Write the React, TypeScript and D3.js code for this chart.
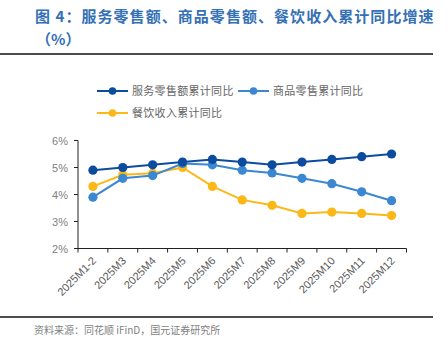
import React from "react";
import * as d3 from "d3";

const categories = ["2025M1-2", "2025M3", "2025M4", "2025M5", "2025M6", "2025M7", "2025M8", "2025M9", "2025M10", "2025M11", "2025M12"];
const services = [4.9, 5.0, 5.1, 5.2, 5.3, 5.2, 5.1, 5.2, 5.3, 5.4, 5.5];
const goods = [3.9, 4.6, 4.7, 5.15, 5.1, 4.9, 4.8, 4.6, 4.4, 4.1, 3.77];
const catering = [4.3, 4.73, 4.79, 5.0, 4.3, 3.8, 3.6, 3.3, 3.35, 3.3, 3.22];
const yTicks = [2, 3, 4, 5, 6];
const seriesNames = ["服务零售额累计同比", "商品零售累计同比", "餐饮收入累计同比"];
const colors = ["#0c4c9f", "#3b87d2", "#fbb817"];

export default function App() {
  const W = 448, H = 342;
  const left = 78, right = 406.5, top = 140.5, bottom = 248.5;
  const x = d3.scaleBand<string>().domain(categories).range([left, right]);
  const y = d3.scaleLinear().domain([2, 6]).range([bottom, top]);
  const line = d3.line<number>().x((_, i) => x(categories[i])! + x.bandwidth() / 2).y(d => y(d));
  const series = [services, goods, catering];
  const font = "'Noto Sans CJK SC', 'Noto Sans', sans-serif";
  const boundaries = categories.map(c => x(c)!).concat([right]);
  const order = [2, 1, 0];
  return (
    <svg width={W} height={H} style={{ position: "absolute", left: 0, top: 0 }}>
      <rect width={W} height={H} fill="#fff" />
      <text x={35} y={22} fontSize={15} fontWeight="bold" fill="#3470b5" fontFamily={font} letterSpacing={1.05}>图 4：服务零售额、商品零售额、餐饮收入累计同比增速</text>
      <text x={36} y={45} fontSize={15} fontWeight="bold" fill="#3470b5" fontFamily={font}>（%）</text>
      <line x1={0} x2={433} y1={54} y2={54} stroke="#111" strokeWidth={1.5} />
      {[0, 1, 2].map(i => {
        const lx = i === 1 ? 238 : 97;
        const ly = i === 2 ? 113 : 91;
        return (
          <g key={i}>
            <line x1={lx} x2={lx + 31} y1={ly} y2={ly} stroke={colors[i]} strokeWidth={2} />
            <circle cx={lx + 15.5} cy={ly} r={3.8} fill={colors[i]} />
            <text x={lx + 35} y={ly + 4} fontSize={11} fill="#666" fontFamily={font} letterSpacing={0.3}>{seriesNames[i]}</text>
          </g>
        );
      })}
      <line x1={left} x2={left} y1={top} y2={bottom} stroke="#222" strokeWidth={1} />
      <line x1={left} x2={right} y1={bottom} y2={bottom} stroke="#222" strokeWidth={1} />
      {yTicks.map(t => (
        <g key={t}>
          <line x1={left - 4} x2={left} y1={y(t)} y2={y(t)} stroke="#222" />
          <text x={68} y={y(t) + 4} fontSize={11} textAnchor="end" fill="#7f7f7f" fontFamily="'Liberation Sans', Arial, sans-serif">{t}%</text>
        </g>
      ))}
      {boundaries.map((b, i) => (
        <line key={i} x1={b} x2={b} y1={bottom} y2={bottom + 4} stroke="#222" />
      ))}
      {categories.map(c => {
        const cx = x(c)! + x.bandwidth() / 2 + 4;
        const cy = bottom + 13;
        return (
          <text key={c} x={cx} y={cy} fontSize={11} textAnchor="end" fill="#595959" fontFamily="'Liberation Sans', Arial, sans-serif" transform={`rotate(-45 ${cx} ${cy})`}>{c}</text>
        );
      })}
      {order.map(si => (
        <g key={si}>
          <path d={line(series[si]) || ""} fill="none" stroke={colors[si]} strokeWidth={2} />
          {series[si].map((v, i) => (
            <circle key={i} cx={x(categories[i])! + x.bandwidth() / 2} cy={y(v)} r={4.6} fill={colors[si]} />
          ))}
        </g>
      ))}
      <line x1={0} x2={433} y1={317} y2={317} stroke="#111" strokeWidth={1.5} />
      <text x={34} y={334} fontSize={10} fill="#7f7f7f" fontFamily={font}>资料来源：同花顺 iFinD，国元证券研究所</text>
    </svg>
  );
}
